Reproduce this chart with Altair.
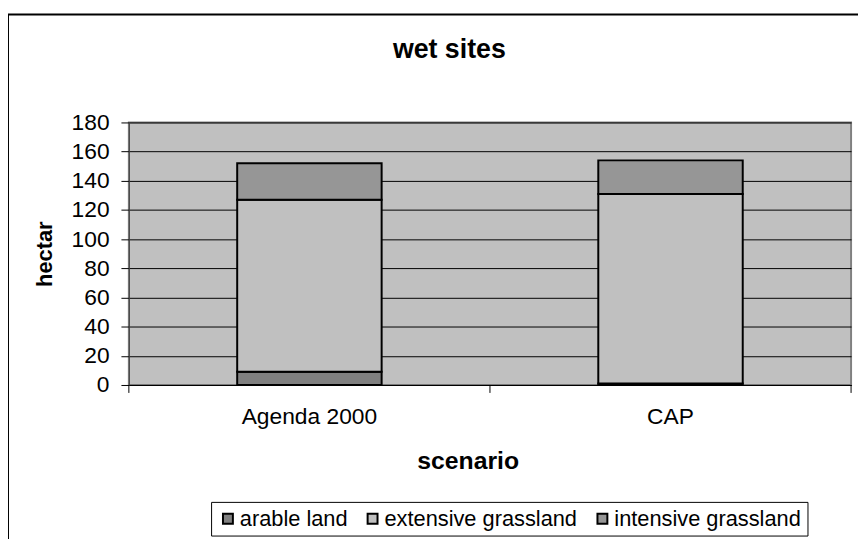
import altair as alt
import pandas as pd

scenarios = ["Agenda 2000", "CAP"]
land_types = ["arable land", "extensive grassland", "intensive grassland"]
arable = [9, 1]
extensive = [118, 130]
intensive = [25, 23]
colors = ["#808080", "#C0C0C0", "#969696"]
y_ticks = [0, 20, 40, 60, 80, 100, 120, 140, 160, 180]

rows = []
for i, s in enumerate(scenarios):
    for j, (lt, vals) in enumerate(zip(land_types, [arable, extensive, intensive])):
        rows.append({"scenario": s, "land": lt, "hectar": vals[i], "order": j})
df = pd.DataFrame(rows)
cats = pd.DataFrame({"scenario": scenarios})
last = pd.DataFrame({"scenario": scenarios[-1:]})

W, H = 729, 265
FONT = "Liberation Sans"

xscale = alt.Scale(domain=scenarios, paddingInner=0, paddingOuter=0)

bars = alt.Chart(df).mark_bar(stroke="black", strokeWidth=2,
                              width=alt.RelativeBandSize(0.4)).encode(
    x=alt.X("scenario:N", scale=xscale, sort=scenarios,
            axis=alt.Axis(title="scenario", labelAngle=0, ticks=False,
                          labelFontSize=23, labelPadding=21,
                          titleFontSize=25, titleFontWeight="bold",
                          titleX=342, titleY=76, titleBaseline="middle",
                          domainColor="black", domainWidth=1)),
    y=alt.Y("sum(hectar):Q", stack="zero",
            scale=alt.Scale(domain=[0, 180], nice=False),
            axis=alt.Axis(title="hectar", values=y_ticks, labelFontSize=23,
                          tickSize=8, tickColor="black", labelPadding=12,
                          titleFontSize=22, titleFontWeight="bold",
                          titlePadding=15, gridColor="black", gridWidth=1,
                          domainColor="#404040")),
    color=alt.Color("land:N", sort=land_types,
                    scale=alt.Scale(domain=land_types, range=colors),
                    legend=alt.Legend(title=None, orient="none", direction="horizontal",
                                      legendX=83, legendY=383, columns=3,
                                      fillColor="white", strokeColor="black",
                                      padding=6, symbolType="square", symbolSize=100,
                                      symbolStrokeColor="black", symbolStrokeWidth=2,
                                      symbolOpacity=1,
                                      labelFontSize=22, labelOffset=1,
                                      columnPadding=14, labelLimit=400)),
    order=alt.Order("order:Q"),
)

ticks0 = alt.Chart(cats).mark_rule(color="black", strokeWidth=1).encode(
    x=alt.X("scenario:N", scale=xscale, sort=scenarios, bandPosition=0),
    y=alt.value(H), y2=alt.value(H + 8),
)
ticks1 = alt.Chart(last).mark_rule(color="black", strokeWidth=1).encode(
    x=alt.X("scenario:N", scale=xscale, sort=scenarios, bandPosition=1),
    y=alt.value(H), y2=alt.value(H + 8),
)

frame = alt.Chart(pd.DataFrame({"f": [0]})).mark_rect(
    fill=None, stroke="black", strokeWidth=2, clip=False).encode(
    x=alt.value(-122), x2=alt.value(W + 60),
    y=alt.value(-109), y2=alt.value(H + 300),
)

chart = alt.layer(frame, bars, ticks0, ticks1).properties(
    width=W, height=H,
    title=alt.TitleParams("wet sites", fontSize=27, fontWeight="bold",
                          anchor="middle", dx=-41, offset=-51, frame="group"),
    autosize=alt.AutoSizeParams(type="none"),
    padding={"left": 122, "top": 113, "right": 7, "bottom": 160},
).configure(font=FONT).configure_view(
    fill="#C0C0C0", stroke="#808080", strokeWidth=2
).configure_axis(labelColor="black", titleColor="black", labelFont=FONT, titleFont=FONT
).configure_legend(labelColor="black", labelFont=FONT
).configure_title(color="black", font=FONT)

chart.save("out.html", embed_options={"renderer": "svg", "actions": False})
